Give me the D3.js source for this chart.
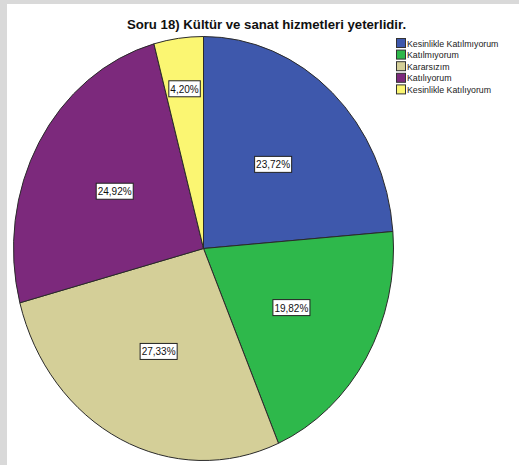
<!DOCTYPE html>
<html><head><meta charset="utf-8">
<script src="https://cdn.jsdelivr.net/npm/d3@7"></script>
<style>
html,body{margin:0;padding:0;background:#fff;}
svg{display:block;font-family:"Liberation Sans",Arial,sans-serif;}
</style></head>
<body>
<svg id="chart" width="519" height="465"></svg>
<script>
const title = "Soru 18) Kültür ve sanat hizmetleri yeterlidir.";
const categories = ["Kesinlikle Katılmıyorum","Katılmıyorum","Kararsızım","Katılıyorum","Kesinlikle Katılıyorum"];
const values = [23.72, 19.82, 27.33, 24.92, 4.20];
const labels = ["23,72%","19,82%","27,33%","24,92%","4,20%"];
const colors = ["#3e58ac","#2eb84b","#d4cf98","#7c297c","#fbf672"];

const svg = d3.select("#chart");
const W = 519, H = 465;
svg.append("rect").attr("width",W).attr("height",H).attr("fill","#d9d9d9");
svg.append("rect").attr("x",7).attr("y",4).attr("width",W-7).attr("height",H-4).attr("fill","#fff");

svg.append("text").attr("x",266.5).attr("y",29).attr("text-anchor","middle")
  .attr("font-size",13.2).attr("font-weight","bold").attr("fill","#111").text(title);

const cx = 203.5, cy = 248.5, rx = 190, ry = 212;
const data = categories.map((c,i)=>({c, v:values[i], l:labels[i], col:colors[i]}));
const pie = d3.pie().value(d=>d.v).sort(null);
const arcs = pie(data);
const arc = d3.arc().innerRadius(0).outerRadius(rx);

const g = svg.append("g").attr("transform",`translate(${cx},${cy}) scale(1,${ry/rx})`);
g.selectAll("path").data(arcs).join("path")
  .attr("d",arc).attr("fill",d=>d.data.col)
  .attr("stroke","#2a2a2a").attr("stroke-width",1)
  .attr("vector-effect","non-scaling-stroke");

const lg = svg.append("g").attr("transform",`translate(${cx},${cy})`);
arcs.forEach(d=>{
  const f = (d.endAngle-d.startAngle) < 0.5 ? 0.76 : 0.54;
  const la = d3.arc().innerRadius(rx*f).outerRadius(rx*f);
  const [x,y0] = la.centroid(d);
  const y = y0*ry/rx;
  const t = lg.append("text").attr("x",x).attr("y",y+4).attr("text-anchor","middle")
    .attr("font-size",10).attr("fill","#111").text(d.data.l);
  const bb = t.node().getBBox();
  lg.insert("rect","text").attr("x",bb.x-1.5).attr("y",y-8).attr("width",bb.width+3).attr("height",16)
    .attr("fill","#fff").attr("stroke","#222").attr("stroke-width",1);
});
lg.selectAll("text").raise();

const leg = svg.append("g");
data.forEach((d,i)=>{
  const y = 43 + i*11.6;
  leg.append("rect").attr("x",396.5).attr("y",y-4.5).attr("width",9).attr("height",9)
    .attr("fill",d.col).attr("stroke","#333").attr("stroke-width",1);
  leg.append("text").attr("x",407).attr("y",y+3.5).attr("font-size",8.8).attr("fill","#222").text(d.c);
});
</script>
</body></html>
